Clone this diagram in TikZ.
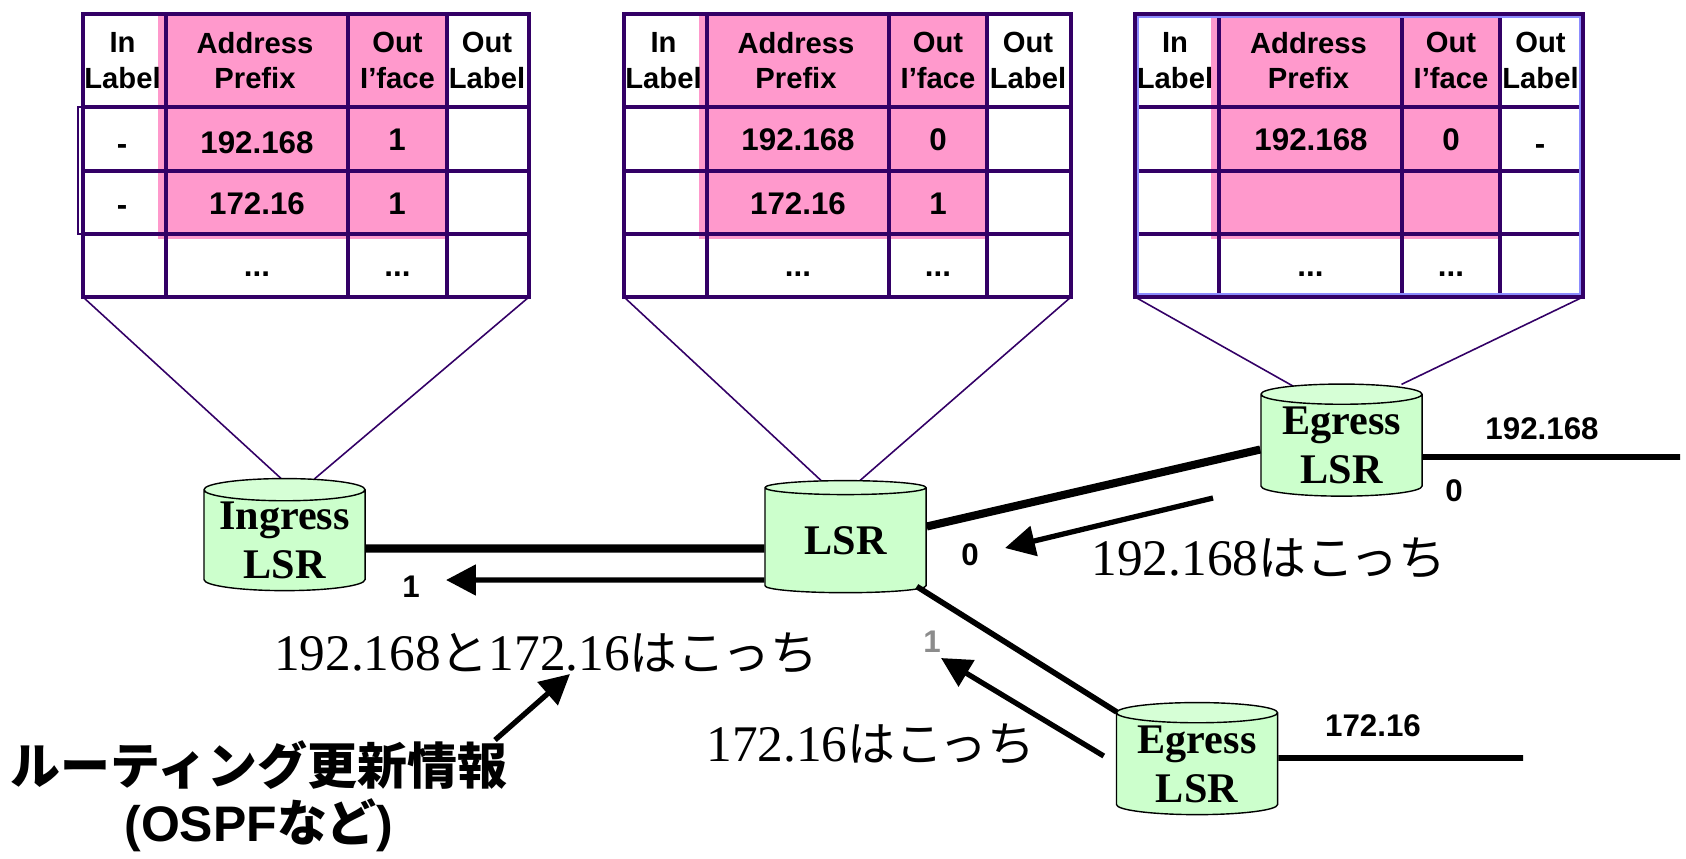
\documentclass[tikz,border=0pt]{standalone}
\usepackage{fontspec}
\setmainfont{Liberation Serif}
\setsansfont{Liberation Sans}
\newfontfamily\cjk{Noto Sans CJK JP}
\usetikzlibrary{positioning,calc,shapes.geometric,arrows.meta,backgrounds}
\definecolor{tblline}{HTML}{330066}
\definecolor{tblpink}{HTML}{FF99CC}
\definecolor{lsrgreen}{HTML}{CCFFCC}
\definecolor{lsrtop}{HTML}{D6FFD6}
\tikzset{
  lsrnode/.style={shape=cylinder,shape border rotate=90,aspect=0.17,draw=black,line width=0.4pt,
    cylinder uses custom fill,cylinder body fill=lsrgreen,cylinder end fill=lsrtop,
    minimum width=1.61cm,minimum height=1.12cm,inner sep=0pt,align=center,
    font=\rmfamily\bfseries\fontsize{12}{14}\selectfont},
  head/.style={inner sep=0pt,align=center,font=\sffamily\bfseries\fontsize{8.3}{10.1}\selectfont},
  val/.style={inner sep=0pt,font=\sffamily\bfseries\fontsize{8.9}{10}\selectfont},
  big/.style={inner sep=0pt,font=\rmfamily\fontsize{14.6}{16}\selectfont},
  upd/.style={inner sep=0pt,align=center,font=\sffamily\bfseries\fontsize{14.2}{16.2}\selectfont},
  grid/.style={draw=tblline,line width=1.1pt},
  wedge/.style={draw=tblline,line width=0.45pt},
  fat/.style={line width=2.3pt},
  mid/.style={line width=1.6pt},
  route/.style={line width=1.5pt,-{Triangle[length=8.5pt,width=8.5pt]}},
}
\begin{document}
\begin{tikzpicture}[x=0.01cm,y=-0.01cm]
  \useasboundingbox (0,0) rectangle (1686,858);

  % the three tables
  \foreach \n/\xa/\xb/\xc/\xd/\xe in {ta/83/166/348/447/529,tb/624/707/889/987/1071,tc/1135/1219/1402/1500/1583}{
    \fill[tblpink] (\xb-8,14) rectangle (\xd,239);
    \draw[grid] (\xa,14) rectangle (\xe,297);
    \foreach \r in {107,171,234}{ \draw[grid] (\xa,\r) -- (\xe,\r); }
    \foreach \c in {\xb,\xc,\xd}{ \draw[grid] (\c,14) -- (\c,297); }
    \coordinate (\n sw) at (\xa,297);
    \coordinate (\n se) at (\xe,297);
    \node[head] (\n in) at ({(\xa+\xb)/2-2},60.5) {In\\Label};
    \node[head] (\n addr) at ({(\xb+\xc)/2-2},60.5) {Address\\Prefix};
    \node[head] (\n oif) at ({(\xc+\xd)/2},60.5) {Out\\I’face};
    \node[head] (\n ol) at ({(\xd+\xe)/2-1},60.5) {Out\\Label};
    \node[val,anchor=base] (\n da) at ({(\xb+\xc)/2},277) {...};
    \node[val,anchor=base] (\n db) at ({(\xc+\xd)/2},277) {...};
  }
  \draw[tblline,line width=0.5pt] (78,107) rectangle (166,234);
  \draw[tblline,line width=1.4pt] (83,171) -- (166,171) (83,234) -- (166,234);
  \draw[blue!45!white,line width=0.4pt] (1138,17) rectangle (1580,294);

  \node[val] (taa) at (122,150) {-};
  \node[val] (tab) at (257,143) {192.168};
  \node[val] (tac) at (397,140) {1};
  \node[val] (tad) at (122,211) {-};
  \node[val] (tae) at (257,204) {172.16};
  \node[val] (taf) at (397,204) {1};
  \node[val] (tba) at (798,140) {192.168};
  \node[val] (tbb) at (938,140) {0};
  \node[val] (tbc) at (798,204) {172.16};
  \node[val] (tbd) at (938,204) {1};
  \node[val] (tca) at (1311,140) {192.168};
  \node[val] (tcb) at (1451,140) {0};
  \node[val] (tcc) at (1540,150) {-};

  % routers
  \node[lsrnode] (ingress) at (284.5,540.5) {Ingress\\LSR};
  \node[lsrnode] (lsr) at (845.5,540.5) {LSR};
  \node[lsrnode] (egressa) at (1341.5,445.5) {Egress\\LSR};
  \node[lsrnode] (egressb) at (1197,764) {Egress\\LSR};

  \begin{scope}[on background layer]
    \draw[wedge] (tasw) -- ($(ingress.north)+(-3,1)$);
    \draw[wedge] (tase) -- ($(ingress.north)+(30,1)$);
    \draw[wedge] (tbsw) -- ($(lsr.north)+(-24,1)$);
    \draw[wedge] (tbse) -- ($(lsr.north)+(14,1)$);
    \draw[wedge] (tcsw) -- ($(egressa.north)+(-48,3)$);
    \draw[wedge] (tcse) -- ($(egressa.north)+(60,1)$);
  \end{scope}

  % links
  \coordinate (enda) at (1680,457);
  \coordinate (endb) at (1523,758);
  \draw[fat] ($(ingress.east)+(0,8)$) -- ($(lsr.west)+(0,8)$);
  \draw[fat] ($(lsr.east)+(0,-14)$) -- ($(egressa.west)+(0,4)$);
  \draw[mid] ($(lsr.east)+(-10,46)$) -- ($(egressb.west)+(1,-52)$);
  \draw[mid] ($(egressa.east)+(0,11.5)$) -- (enda);
  \draw[mid] ($(egressb.east)+(0,-6)$) -- (endb);

  \node[val] (portf) at (411,587) {1};
  \node[val] (portg) at (970,555) {0};
  \node[val] (porth) at (1454,491) {0};
  \node[val,text=black!45] (porti) at (932,642) {1};
  \node[val] (neta) at (1542,429) {192.168};
  \node[val] (netb) at (1373,726) {172.16};

  \node[big] (msga) at (1269,558) {192.168{\cjk\fontsize{13.6}{16}\selectfont はこっち}};
  \node[big] (msgb) at (546,653) {192.168{\cjk\fontsize{13.6}{16}\selectfont と}172.16{\cjk\fontsize{13.6}{16}\selectfont はこっち}};
  \node[big] (msgc) at (871,744) {172.16{\cjk\fontsize{13.6}{16}\selectfont はこっち}};
  \node[upd] (update) at (259,796) {{\cjk ルーティング更新情報}\\({OSPF}{\cjk など})};

  % advertised routes
  \coordinate (tipa) at (446,580);
  \coordinate (tailb) at (1213,498);
  \coordinate (tipb) at (1005,548);
  \coordinate (tipc) at (941,658);
  \coordinate (taild) at (495,740);
  \coordinate (tipd) at (570,674);
  \draw[route] ($(lsr.west)+(0,39.5)$) -- (tipa);
  \draw[route] (tailb) -- (tipb);
  \draw[route] ($(egressb.west)+(-12,-8)$) -- (tipc);
  \draw[route] (taild) -- (tipd);
\end{tikzpicture}
\end{document}
